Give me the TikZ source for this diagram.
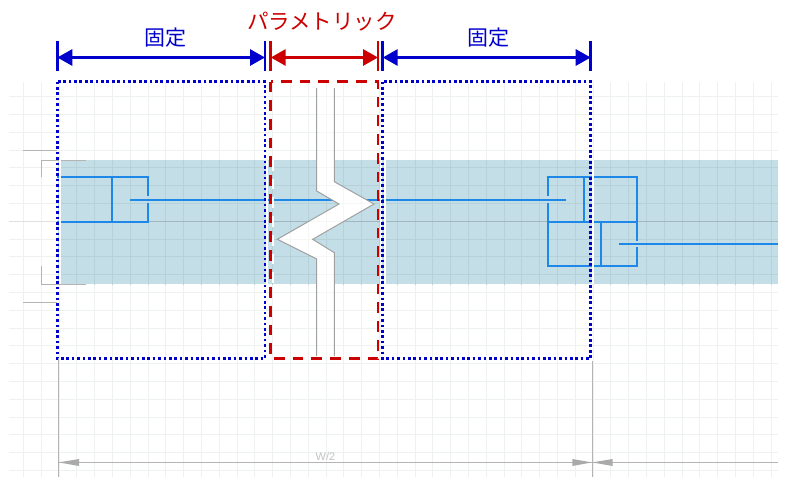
\documentclass[tikz,border=0pt]{standalone}
\usepackage{fontspec}
\setmainfont{Liberation Sans}
\newfontfamily\jpfont{Noto Sans CJK JP}
\usetikzlibrary{arrows.meta}
\definecolor{dimblue}{HTML}{0000CC}
\definecolor{dimred}{HTML}{CC0000}
\definecolor{bandc}{HTML}{C4DEE8}
\definecolor{gridlight}{HTML}{EEF2EE}
\definecolor{griddark}{HTML}{B6D2D8}
\definecolor{partblue}{HTML}{1E88E8}
\definecolor{greyline}{HTML}{B4B4B4}
\definecolor{breakgrey}{HTML}{A0A0A0}
\tikzset{
  x=1pt,y=-1pt,
  gridln/.style={line width=1.1pt},
  part/.style={draw=partblue,line width=2pt,line cap=rect},
  greymark/.style={draw=greyline,line width=1pt},
  dimb/.style={draw=dimblue,line width=3pt,{Triangle[length=15pt,width=16pt]}-{Triangle[length=15pt,width=16pt]}},
  dimr/.style={draw=dimred,line width=3pt,{Triangle[length=15pt,width=16pt]}-{Triangle[length=15pt,width=16pt]}},
  tickb/.style={draw=dimblue,line width=2.6pt},
  tickr/.style={draw=dimred,line width=2.6pt},
  dotbox/.style={draw=dimblue,line width=2.7pt,dash pattern=on 2.7pt off 2.7pt},
  dashbox/.style={draw=dimred,line width=2.7pt,dash pattern=on 10.7pt off 8pt},
  halo/.style={draw=white,line width=2pt},
  capt/.style={font=\jpfont\fontsize{21}{24}\selectfont,inner sep=0pt},
  wedge/.style={fill=breakgrey!90,draw=none}
}
\newcommand{\gridv}[1]{\foreach \k in {0,...,42} \draw[gridln,#1] ({23.5+17.8*\k},82) -- ({23.5+17.8*\k},477);}
\newcommand{\gridh}[1]{\foreach \k in {0,...,21} \draw[gridln,#1] (9,{96.7+17.8*\k}) -- (778,{96.7+17.8*\k});}
\begin{document}
\begin{tikzpicture}
\useasboundingbox (0,0) rectangle (786,477);
\fill[white] (0,0) rectangle (786,477);
% grid
\gridv{gridlight}
\gridh{gridlight}
\draw[gridln,draw=black!12] (9,221.5) -- (778,221.5);
% band
\fill[bandc] (58,160) rectangle (778,284);
\begin{scope}
  \clip (58,160) rectangle (778,284);
  \gridv{griddark}
  \gridh{griddark}
  \draw[gridln,draw=black!18!bandc] (9,221.5) -- (778,221.5);
\end{scope}
% grey section marks
\coordinate (m1) at (23,150.5); \coordinate (m2) at (57,150.5);
\coordinate (m3) at (41,177); \coordinate (m4) at (41,160); \coordinate (m5) at (86,160);
\coordinate (m6) at (41,266); \coordinate (m7) at (41,284); \coordinate (m8) at (86,284);
\coordinate (m9) at (23,302); \coordinate (m10) at (57,302);
\draw[greymark] (m1) -- (m2);
\draw[greymark] (m3) -- (m4) -- (m5);
\draw[greymark] (m6) -- (m7) -- (m8);
\draw[greymark] (m9) -- (m10);
% left part
\coordinate (a1) at (58,177); \coordinate (a2) at (148,177); \coordinate (a3) at (148,195);
\coordinate (a4) at (148,204); \coordinate (a5) at (148,222); \coordinate (a6) at (58,222);
\coordinate (a7) at (112,177); \coordinate (a8) at (112,222);
\draw[part] (a1) -- (a2) -- (a3);
\draw[part] (a4) -- (a5) -- (a6);
\draw[part] (a7) -- (a8);
% right part
\coordinate (b1) at (548,195); \coordinate (b2) at (548,177); \coordinate (b3) at (637,177);
\coordinate (b4) at (637,240); \coordinate (b5) at (637,248); \coordinate (b6) at (637,266);
\coordinate (b7) at (548,266); \coordinate (b8) at (548,204);
\coordinate (b9) at (548,222); \coordinate (b10) at (637,222);
\coordinate (b11) at (584,177); \coordinate (b12) at (584,222);
\coordinate (b13) at (601,222); \coordinate (b14) at (601,266);
\draw[part] (b1) -- (b2) -- (b3) -- (b4);
\draw[part] (b5) -- (b6) -- (b7) -- (b8);
\draw[part] (b9) -- (b10);
\draw[part] (b11) -- (b12);
\draw[part] (b13) -- (b14);
% rods
\coordinate (r1) at (130,200); \coordinate (r2) at (566,200);
\coordinate (r3) at (619,244); \coordinate (r4) at (778,244);
\draw[part,line cap=butt] (r1) -- (r2);
\draw[part,line cap=butt] (r3) -- (r4);
% break
\coordinate (z1) at (316.7,88); \coordinate (z2) at (316.7,191); \coordinate (z3) at (339,204);
\coordinate (z4) at (277.3,239.3); \coordinate (z5) at (316.7,259); \coordinate (z6) at (316.7,356);
\coordinate (z7) at (334.3,356); \coordinate (z8) at (334.3,252.7); \coordinate (z9) at (312.7,239.3);
\coordinate (z10) at (374,204); \coordinate (z11) at (334.3,181.7); \coordinate (z12) at (334.3,88);
\fill[white] (z1) -- (z2) -- (z3) -- (z4) -- (z5) -- (z6) -- (z7) -- (z8) -- (z9) -- (z10) -- (z11) -- (z12) -- cycle;
\begin{scope}
  \clip (z1) -- (z2) -- (z3) -- (z4) -- (z5) -- (z6) -- (z7) -- (z8) -- (z9) -- (z10) -- (z11) -- (z12) -- cycle;
  \gridv{gridlight!60}
  \gridh{gridlight!60}
\end{scope}
\draw[draw=breakgrey,line width=1pt] (z1) -- (z2) -- (z3) -- (z4) -- (z5) -- (z6);
\draw[draw=breakgrey,line width=1pt] (z7) -- (z8) -- (z9) -- (z10) -- (z11) -- (z12);
% bottom dimension
\coordinate (d1) at (58.7,359); \coordinate (d2) at (58.7,477);
\coordinate (d3) at (592,361); \coordinate (d4) at (592,477);
\coordinate (d5) at (58.7,462.4); \coordinate (d6) at (778,462.4);
\draw[greymark] (d1) -- (d2);
\draw[greymark] (d3) -- (d4);
\draw[greymark] (d5) -- (d6);
\fill[wedge] (d5) -- (79,459) -- (79,466) -- cycle;
\coordinate (d7) at (592,462.4);
\fill[wedge] (d7) -- (572.3,459) -- (572.3,466) -- cycle;
\fill[wedge] (d7) -- (612.7,459) -- (612.7,466) -- cycle;
\node[text=black!24,font=\fontsize{11}{13}\selectfont,inner sep=0pt] (wlabel) at (325.5,456.5) {W/2};
% frames: white halo then coloured
\coordinate (p1) at (57.3,81.5); \coordinate (p2) at (265,358.7);
\coordinate (q1) at (270.7,81.5); \coordinate (q2) at (378,358.7);
\coordinate (s1) at (382.7,81.5); \coordinate (s2) at (590.7,358.7);
\draw[halo] (59.8,160) -- (59.8,284);
\draw[halo] (267.3,160) -- (267.3,284);
\draw[halo,dash pattern=on 10.7pt off 8pt] (273.2,160) -- (273.2,284);
\draw[halo] (380.5,160) -- (380.5,284);
\draw[halo] (385.2,160) -- (385.2,284);
\draw[halo] (593.2,160) -- (593.2,284);
\draw[dotbox] (p1) rectangle (p2);
\draw[dashbox] (q1) rectangle (q2);
\draw[dotbox] (s1) rectangle (s2);
% top dimensions
\coordinate (t1a) at (57.3,41); \coordinate (t1b) at (57.3,71);
\coordinate (t2a) at (265,41); \coordinate (t2b) at (265,71);
\coordinate (t3a) at (270.7,41); \coordinate (t3b) at (270.7,71);
\coordinate (t4a) at (378,41); \coordinate (t4b) at (378,71);
\coordinate (t5a) at (382.7,41); \coordinate (t5b) at (382.7,71);
\coordinate (t6a) at (590.7,41); \coordinate (t6b) at (590.7,71);
\draw[tickb] (t1a) -- (t1b);
\draw[tickb] (t2a) -- (t2b);
\draw[tickr] (t3a) -- (t3b);
\draw[tickr] (t4a) -- (t4b);
\draw[tickb] (t5a) -- (t5b);
\draw[tickb] (t6a) -- (t6b);
\coordinate (h1) at (57.3,57.5); \coordinate (h2) at (265,57.5);
\coordinate (h3) at (270.7,57.5); \coordinate (h4) at (378,57.5);
\coordinate (h5) at (382.7,57.5); \coordinate (h6) at (590.7,57.5);
\draw[dimb] (h1) -- (h2);
\draw[dimr] (h3) -- (h4);
\draw[dimb] (h5) -- (h6);
\node[capt,text=dimblue] (lab1) at (165,37.5) {固定};
\node[capt,text=dimred,font=\jpfont\fontsize{21.5}{24}\selectfont] (lab2) at (322,21.5) {パラメトリック};
\node[capt,text=dimblue] (lab3) at (488,37.5) {固定};
\end{tikzpicture}
\end{document}
